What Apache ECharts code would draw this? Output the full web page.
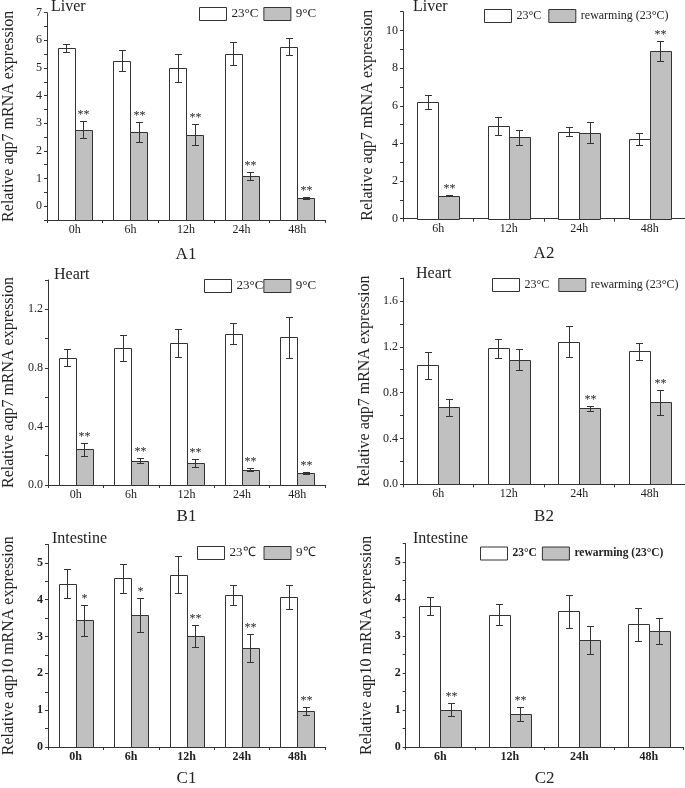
<!DOCTYPE html>
<html><head><meta charset="utf-8">
<script src="https://cdn.jsdelivr.net/npm/echarts@6/dist/echarts.min.js"></script>
<style>html,body{margin:0;padding:0;background:#fff}#c{width:685px;height:788px}</style>
</head><body><div id="c"></div>
<script>
// ---------- DATA ----------
const catsCold = ['0h', '6h', '12h', '24h', '48h'];
const catsRewarm = ['6h', '12h', '24h', '48h'];

// A1 Liver aqp7, 23°C vs 9°C
const a1Ctrl = [5.72, 5.27, 5.00, 5.52, 5.77];
const a1CtrlErr = [0.14, 0.38, 0.49, 0.43, 0.30];
const a1Cold = [2.77, 2.69, 2.59, 1.09, 0.30];
const a1ColdErr = [0.31, 0.36, 0.37, 0.13, 0.03];
const a1Stars = ['**', '**', '**', '**', '**'];

// A2 Liver aqp7, 23°C vs rewarming
const a2Ctrl = [6.22, 4.93, 4.63, 4.22];
const a2CtrlErr = [0.38, 0.46, 0.23, 0.32];
const a2Rew = [1.23, 4.33, 4.58, 8.93];
const a2RewErr = [0.04, 0.40, 0.58, 0.53];
const a2Stars = ['**', '', '', '**'];

// B1 Heart aqp7, 23°C vs 9°C
const b1Ctrl = [0.869, 0.937, 0.969, 1.033, 1.008];
const b1CtrlErr = [0.057, 0.090, 0.094, 0.072, 0.142];
const b1Cold = [0.244, 0.167, 0.149, 0.105, 0.083];
const b1ColdErr = [0.045, 0.020, 0.027, 0.012, 0.008];
const b1Stars = ['**', '**', '**', '**', '**'];

// B2 Heart aqp7, 23°C vs rewarming
const b2Ctrl = [1.038, 1.187, 1.242, 1.160];
const b2CtrlErr = [0.116, 0.085, 0.135, 0.077];
const b2Rew = [0.672, 1.087, 0.663, 0.715];
const b2RewErr = [0.075, 0.093, 0.020, 0.110];
const b2Stars = ['', '', '**', '**'];

// C1 Intestine aqp10, 23℃ vs 9℃
const c1Ctrl = [4.44, 4.58, 4.68, 4.13, 4.07];
const c1CtrlErr = [0.39, 0.40, 0.51, 0.26, 0.32];
const c1Cold = [3.44, 3.58, 3.02, 2.70, 0.99];
const c1ColdErr = [0.42, 0.47, 0.30, 0.38, 0.11];
const c1Stars = ['*', '*', '**', '**', '**'];

// C2 Intestine aqp10, 23°C vs rewarming
const c2Ctrl = [3.82, 3.58, 3.67, 3.32];
const c2CtrlErr = [0.25, 0.28, 0.44, 0.45];
const c2Rew = [1.01, 0.89, 2.89, 3.14];
const c2RewErr = [0.17, 0.18, 0.38, 0.34];
const c2Stars = ['**', '**', '', ''];

// axis ranges / ticks
const a1Axis = {min: -0.5, max: 7, step: 0.5, labelStep: 1, dec: 0};
const a2Axis = {min: 0, max: 11, step: 1, labelStep: 2, dec: 0};
const b1Axis = {min: 0, max: 1.4, step: 0.2, labelStep: 0.4, dec: 1};
const b2Axis = {min: 0, max: 1.8, step: 0.2, labelStep: 0.4, dec: 1};
const c1Axis = {min: 0, max: 5.5, step: 0.5, labelStep: 1, dec: 0};
const c2Axis = {min: 0, max: 5.5, step: 0.5, labelStep: 1, dec: 0};

const panels = [
  {key: 'A1', title: 'Liver', yName: 'Relative aqp7 mRNA expression', cats: catsCold, ctrl: a1Ctrl, ctrlErr: a1CtrlErr, trt: a1Cold, trtErr: a1ColdErr, stars: a1Stars, ctrlName: '23°C', trtName: '9°C', axis: a1Axis},
  {key: 'A2', title: 'Liver', yName: 'Relative aqp7 mRNA expression', cats: catsRewarm, ctrl: a2Ctrl, ctrlErr: a2CtrlErr, trt: a2Rew, trtErr: a2RewErr, stars: a2Stars, ctrlName: '23°C', trtName: 'rewarming (23°C)', axis: a2Axis},
  {key: 'B1', title: 'Heart', yName: 'Relative aqp7 mRNA expression', cats: catsCold, ctrl: b1Ctrl, ctrlErr: b1CtrlErr, trt: b1Cold, trtErr: b1ColdErr, stars: b1Stars, ctrlName: '23°C', trtName: '9°C', axis: b1Axis},
  {key: 'B2', title: 'Heart', yName: 'Relative aqp7 mRNA expression', cats: catsRewarm, ctrl: b2Ctrl, ctrlErr: b2CtrlErr, trt: b2Rew, trtErr: b2RewErr, stars: b2Stars, ctrlName: '23°C', trtName: 'rewarming (23°C)', axis: b2Axis},
  {key: 'C1', title: 'Intestine', yName: 'Relative aqp10 mRNA expression', cats: catsCold, ctrl: c1Ctrl, ctrlErr: c1CtrlErr, trt: c1Cold, trtErr: c1ColdErr, stars: c1Stars, ctrlName: '23℃', trtName: '9℃', axis: c1Axis},
  {key: 'C2', title: 'Intestine', yName: 'Relative aqp10 mRNA expression', cats: catsRewarm, ctrl: c2Ctrl, ctrlErr: c2CtrlErr, trt: c2Rew, trtErr: c2RewErr, stars: c2Stars, ctrlName: '23°C', trtName: 'rewarming (23°C)', axis: c2Axis}
];

// ---------- LAYOUT / STYLE ----------
const FONT = "'Liberation Serif','Times New Roman',serif";
const INK = '#222';
const LINE = '#333';
const layout = [
  {grid: {left: 47, top: 12.7, width: 278, height: 207.3}, barW: 17, title: {left: 51, top: -1}, legend: {left: 199, top: 7, itemGap: 5, fontSize: 13}, yGap: 30, xGap: 26.5, bold: false, legendBold: false},
  {grid: {left: 403, top: 11.7, width: 282, height: 207}, barW: 21, title: {left: 413, top: -1}, legend: {left: 484, top: 9, itemGap: 7, fontSize: 12}, yGap: 27, xGap: 26.5, bold: false, legendBold: false},
  {grid: {left: 48, top: 280, width: 277, height: 205}, barW: 17, title: {left: 54, top: 266.5}, legend: {left: 204, top: 279, itemGap: 0, fontSize: 13}, yGap: 31, xGap: 23.5, bold: false, legendBold: false},
  {grid: {left: 403, top: 278, width: 282, height: 206.3}, barW: 21, title: {left: 416, top: 265.5}, legend: {left: 492, top: 278, itemGap: 9, fontSize: 12}, yGap: 30, xGap: 23.5, bold: false, legendBold: false},
  {grid: {left: 48, top: 544.5, width: 277, height: 205.5}, barW: 17, title: {left: 52, top: 530.5}, legend: {left: 197, top: 546, itemGap: 8, fontSize: 13}, yGap: 31, xGap: 23, bold: true, legendBold: false},
  {grid: {left: 405.7, top: 543.7, width: 278, height: 206}, barW: 21, title: {left: 413, top: 531}, legend: {left: 480, top: 546.5, itemGap: 5, fontSize: 11.5}, yGap: 31, xGap: 23, bold: true, legendBold: true}
];
const FILL_CTRL = '#ffffff';
const FILL_TRT = '#c0c0c0';

function makeRender(sign, barW, yMin, stars, fill) {
  return function (params, api) {
    const i = api.value(0), v = api.value(1), e = api.value(2);
    const top = api.coord([i, v]);
    const base = api.coord([i, yMin]);
    const xc = top[0] + sign * barW / 2;
    const x0 = Math.round(xc - barW / 2) + 0.5;
    const x1 = Math.round(xc + barW / 2) + 0.5;
    const yT = Math.round(top[1]) + 0.5;
    const yB = Math.round(base[1]) + 0.5;
    const hi = Math.round(api.coord([i, v + e])[1]) + 0.5;
    const lo = Math.round(api.coord([i, v - e])[1]) + 0.5;
    const xe = Math.round(xc) + 0.5;
    const cap = 3.5;
    const ls = {stroke: LINE, lineWidth: 1};
    const children = [
      {type: 'rect', shape: {x: x0, y: yT, width: x1 - x0, height: yB - yT}, style: {fill: fill, stroke: LINE, lineWidth: 1}},
      {type: 'line', shape: {x1: xe, y1: hi, x2: xe, y2: lo}, style: ls},
      {type: 'line', shape: {x1: xe - cap, y1: hi, x2: xe + cap, y2: hi}, style: ls},
      {type: 'line', shape: {x1: xe - cap, y1: lo, x2: xe + cap, y2: lo}, style: ls}
    ];
    const s = stars ? stars[params.dataIndex] : '';
    if (s) {
      children.push({type: 'text', style: {text: s, x: xe, y: hi - 1, align: 'center', verticalAlign: 'bottom', font: '12px ' + FONT, fill: INK}});
    }
    return {type: 'group', children: children};
  };
}

const option = {
  animation: false,
  backgroundColor: '#fff',
  grid: [], xAxis: [], yAxis: [], series: [], legend: [], title: []
};

panels.forEach(function (p, k) {
  const L = layout[k];
  const ax = p.axis;
  option.grid.push(Object.assign({containLabel: false}, L.grid));
  option.title.push({text: p.title, left: L.title.left, top: L.title.top, padding: 0,
    textStyle: {fontFamily: FONT, fontSize: 16, fontWeight: 'normal', color: INK}});
  option.legend.push({data: [p.ctrlName, p.trtName], left: L.legend.left, top: L.legend.top, padding: 0,
    itemWidth: 27, itemHeight: 13, itemGap: L.legend.itemGap, icon: 'rect', selectedMode: false,
    itemStyle: {borderColor: LINE, borderWidth: 1},
    textStyle: {fontFamily: FONT, fontSize: L.legend.fontSize, color: INK, fontWeight: L.legendBold ? 'bold' : 'normal'}});
  const fw = L.bold ? 'bold' : 'normal';
  option.xAxis.push({type: 'category', gridIndex: k, data: p.cats, position: 'bottom',
    axisLine: {onZero: false, lineStyle: {color: LINE, width: 1}},
    axisTick: {alignWithLabel: true, length: 3, lineStyle: {color: LINE}},
    axisLabel: {margin: 4, fontSize: 12, fontFamily: FONT, color: INK, fontWeight: fw},
    splitLine: {show: false},
    name: p.key, nameLocation: 'middle', nameGap: L.xGap,
    nameTextStyle: {fontFamily: FONT, fontSize: 17, color: INK}});
  option.xAxis.push({type: 'category', gridIndex: k, data: p.cats, position: 'bottom',
    axisLine: {show: false, onZero: false}, axisTick: {show: true, alignWithLabel: false, length: 3, lineStyle: {color: LINE}},
    axisLabel: {show: false}, splitLine: {show: false}});
  option.yAxis.push({type: 'value', gridIndex: k, min: ax.min, max: ax.max, interval: ax.step,
    axisLine: {show: true, lineStyle: {color: LINE, width: 1}},
    axisTick: {show: true, length: 3, lineStyle: {color: LINE}},
    axisLabel: {margin: 5, fontSize: 12, fontFamily: FONT, color: INK, fontWeight: fw,
      formatter: function (v) {
        const q = v / ax.labelStep;
        if (Math.abs(q - Math.round(q)) > 1e-6) return '';
        return Number(v).toFixed(ax.dec);
      }},
    splitLine: {show: false},
    name: p.yName, nameLocation: 'middle', nameGap: L.yGap,
    nameTextStyle: {fontFamily: FONT, fontSize: 16, color: INK}});
  const xi = 2 * k;
  option.series.push({type: 'custom', name: p.ctrlName, xAxisIndex: xi, yAxisIndex: k,
    itemStyle: {color: FILL_CTRL, borderColor: LINE, borderWidth: 1},
    renderItem: makeRender(-1, L.barW, ax.min, null, FILL_CTRL),
    encode: {x: 0, y: 1},
    data: p.cats.map(function (c, i) { return [i, p.ctrl[i], p.ctrlErr[i]]; })});
  option.series.push({type: 'custom', name: p.trtName, xAxisIndex: xi, yAxisIndex: k,
    itemStyle: {color: FILL_TRT, borderColor: LINE, borderWidth: 1},
    renderItem: makeRender(1, L.barW, ax.min, p.stars, FILL_TRT),
    encode: {x: 0, y: 1},
    data: p.cats.map(function (c, i) { return [i, p.trt[i], p.trtErr[i]]; })});
});

const chart = echarts.init(document.getElementById('c'), null, {renderer: 'canvas'});
chart.setOption(option);
</script>
</body></html>
